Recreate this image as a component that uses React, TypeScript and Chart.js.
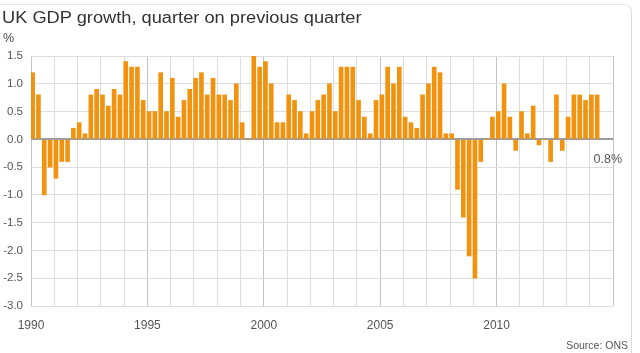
import React, { useEffect, useRef } from 'react';
import { Chart, registerables } from 'chart.js';

Chart.register(...registerables);

// ---- data -------------------------------------------------------------
const FIRST_YEAR = 1990;
const LAST_YEAR = 2015;
const LABELLED_YEARS = [1990, 1995, 2000, 2005, 2010];

const Y_MIN = -3.0;
const Y_MAX = 1.5;
const Y_STEP = 0.5;

// Quarter-on-quarter GDP growth, %, from 1990 Q1
const GROWTH_1990_1994 = [1.2, 0.8, -1.0, -0.5, -0.7, -0.4, -0.4, 0.2, 0.3, 0.1, 0.8, 0.9, 0.8, 0.6, 0.9, 0.8, 1.4, 1.3, 1.3, 0.7];
const GROWTH_1995_1999 = [0.5, 0.5, 1.2, 0.5, 1.1, 0.4, 0.7, 0.9, 1.1, 1.2, 0.8, 1.1, 0.8, 0.8, 0.7, 1.0, 0.3, 0.0, 1.5, 1.3];
const GROWTH_2000_2004 = [1.4, 1.0, 0.3, 0.3, 0.8, 0.7, 0.5, 0.1, 0.5, 0.7, 0.8, 1.0, 0.5, 1.3, 1.3, 1.3, 0.7, 0.4, 0.1, 0.7];
const GROWTH_2005_2009 = [0.8, 1.3, 1.0, 1.3, 0.4, 0.3, 0.2, 0.8, 1.0, 1.3, 1.2, 0.1, 0.1, -0.9, -1.4, -2.1, -2.5, -0.4, 0.0, 0.4];
const GROWTH_2010_2014 = [0.5, 1.0, 0.4, -0.2, 0.5, 0.1, 0.6, -0.1, 0.0, -0.4, 0.8, -0.2, 0.4, 0.8, 0.8, 0.7, 0.8, 0.8];

const QUARTERLY_GROWTH = [
  ...GROWTH_1990_1994,
  ...GROWTH_1995_1999,
  ...GROWTH_2000_2004,
  ...GROWTH_2005_2009,
  ...GROWTH_2010_2014,
];

const TITLE = 'UK GDP growth, quarter on previous quarter';
const UNIT = '%';
const LATEST_LABEL = '0.8%';
const SOURCE = 'Source: ONS';

// ---- style ------------------------------------------------------------
const BAR_COLOR = '#f2930f';
const FONT = '"Liberation Sans", Arial, Helvetica, sans-serif';

export default function App() {
  const canvasRef = useRef<HTMLCanvasElement | null>(null);

  useEffect(() => {
    const canvas = canvasRef.current;
    if (!canvas) return;
    const points = QUARTERLY_GROWTH.map((v, i) => ({ x: FIRST_YEAR + i * 0.25 + 0.07, y: v }));

    const chart = new Chart(canvas, {
      type: 'bar',
      data: {
        datasets: [
          {
            data: points as any,
            backgroundColor: BAR_COLOR,
            borderWidth: 0,
            barThickness: 4,
          },
        ],
      },
      options: {
        animation: false,
        responsive: false,
        maintainAspectRatio: false,
        layout: { padding: { left: 0, right: 27, top: 56, bottom: 0 } },
        plugins: {
          legend: { display: false },
          tooltip: { enabled: false },
          title: { display: false },
        },
        scales: {
          x: {
            type: 'linear',
            min: FIRST_YEAR,
            max: LAST_YEAR,
            offset: false,
            grid: {
              offset: false,
              drawTicks: false,
              color: (ctx: any) => (ctx.tick && ctx.tick.value % 5 === 0 ? '#c4c4c4' : '#dedede'),
              lineWidth: 1,
            },
            border: { display: false },
            ticks: {
              stepSize: 1,
              autoSkip: false,
              maxRotation: 0,
              padding: 12,
              color: '#555',
              font: { family: FONT, size: 12 },
              callback: (v: any) => (LABELLED_YEARS.includes(Number(v)) ? String(v) : ''),
            },
            afterFit: (s: any) => {
              s.height = 47;
            },
          } as any,
          y: {
            min: Y_MIN,
            max: Y_MAX,
            grid: {
              drawTicks: false,
              color: (ctx: any) => (ctx.tick && ctx.tick.value === 0 ? '#9c9c9c' : '#dedede'),
              lineWidth: (ctx: any) => (ctx.tick && ctx.tick.value === 0 ? 2 : 1),
            },
            border: { display: false },
            ticks: {
              stepSize: Y_STEP,
              padding: 8,
              color: '#555',
              font: { family: FONT, size: 11.5 },
              callback: (v: any) => Number(v).toFixed(1),
            },
            afterFit: (s: any) => {
              s.width = 31;
            },
          } as any,
        },
      },
    });
    return () => chart.destroy();
  }, []);

  return (
    <div
      style={{
        position: 'fixed',
        left: 0,
        top: 0,
        width: 640,
        height: 353,
        background: '#fff',
        overflow: 'hidden',
        fontFamily: FONT,
      }}
    >
      <div
        style={{
          position: 'absolute',
          top: 4,
          left: -10,
          right: 8,
          height: 400,
          borderTop: '1px solid #e6e6e6',
          borderRight: '1px solid #dcdcdc',
          borderTopRightRadius: 8,
        }}
      />
      <canvas ref={canvasRef} width={640} height={353} style={{ position: 'absolute', left: 0, top: 0 }} />
      <div
        style={{
          position: 'absolute',
          left: 2,
          top: 8,
          fontSize: 16,
          color: '#333',
          whiteSpace: 'nowrap',
          transform: 'scaleX(1.14)',
          transformOrigin: 'left top',
          lineHeight: '19px',
        }}
      >
        {TITLE}
      </div>
      <div style={{ position: 'absolute', left: 3, top: 31, fontSize: 12.5, color: '#444', lineHeight: '14px' }}>{UNIT}</div>
      <div
        style={{
          position: 'absolute',
          right: 18,
          top: 152,
          fontSize: 12.5,
          color: '#555',
          lineHeight: '14px',
        }}
      >
        {LATEST_LABEL}
      </div>
      <div
        style={{
          position: 'absolute',
          right: 12,
          top: 339,
          fontSize: 10.5,
          color: '#555',
          lineHeight: '12px',
        }}
      >
        {SOURCE}
      </div>
    </div>
  );
}
